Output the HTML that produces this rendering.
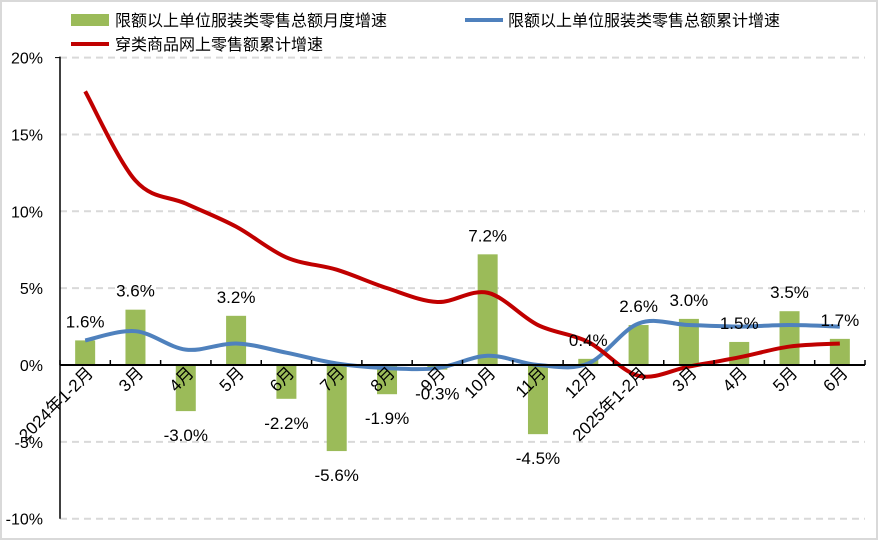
<!DOCTYPE html>
<html><head><meta charset="utf-8"><style>
body{margin:0;background:#fff}
svg{display:block;font-family:"Liberation Sans","Noto Sans CJK SC",sans-serif}
</style></head><body>
<svg id="c" width="878" height="540">
<rect x="1" y="1" width="876" height="538" fill="#fff" stroke="#d9d9d9" stroke-width="2"/>
<g id="grid"></g><g id="bars"></g><g id="lines"></g><g id="axes"></g><g id="labels"></g>
<g font-size="16">
<rect x="71" y="14" width="38" height="12" fill="#9bbb59"/>
<text x="115" y="26">限额以上单位服装类零售总额月度增速</text>
<line x1="465" y1="20" x2="503" y2="20" stroke="#4f81bd" stroke-width="4"/>
<text x="508" y="26">限额以上单位服装类零售总额累计增速</text>
<line x1="71" y1="44" x2="109" y2="44" stroke="#c00000" stroke-width="4"/>
<text x="115" y="50">穿类商品网上零售额累计增速</text>
</g>
</svg>
<script>
const categories=["2024年1-2月","3月","4月","5月","6月","7月","8月","9月","10月","11月","12月","2025年1-2月","3月","4月","5月","6月"];
const monthly=[1.6,3.6,-3.0,3.2,-2.2,-5.6,-1.9,-0.3,7.2,-4.5,0.4,2.6,3.0,1.5,3.5,1.7];
const cumulative=[1.6,2.2,1.0,1.4,0.8,0.1,-0.2,-0.2,0.6,0.0,0.1,2.7,2.6,2.5,2.6,2.5];
const online=[17.8,12.0,10.5,9.0,7.0,6.2,5.0,4.1,4.7,2.6,1.5,-0.7,-0.1,0.5,1.2,1.4];
const yTicks=[20,15,10,5,0,-5,-10];
const NS="http://www.w3.org/2000/svg";
const X0=60,X1=865,n=categories.length,bw=(X1-X0)/n;
const xc=i=>X0+bw*(i+0.5);
const y=v=>365-v*15.37;
function mk(t,a,p){const e=document.createElementNS(NS,t);for(const k in a)e.setAttribute(k,a[k]);document.getElementById(p).appendChild(e);return e;}
yTicks.forEach(v=>{
 if(v!==0){const g=mk('line',{x1:X0,x2:X1,y1:y(v),y2:y(v),stroke:'#d9d9d9','stroke-width':2,'stroke-dasharray':'7,5'},'grid');
 
 }
 const t=mk('text',{x:43,y:y(v)+6,'text-anchor':'end','font-size':16},'axes');t.textContent=v+'%';
 
 
});
monthly.forEach((v,i)=>{
 const w=20;const r=mk('rect',{x:xc(i)-w/2,y:Math.min(y(v),y(0)),width:w,height:Math.abs(y(v)-y(0)),fill:'#9bbb59'},'bars');
 
 
 const ly=v>=0?y(v)-13:y(v)+30;
 const t=mk('text',{x:xc(i),y:ly,'text-anchor':'middle','font-size':17},'labels');t.textContent=v.toFixed(1)+'%';
 
 
});
function path(vals){const p=vals.map((v,i)=>[xc(i),y(v)]);let d='M'+p[0];
 for(let i=0;i<p.length-1;i++){const p0=p[i-1]||p[i],p1=p[i],p2=p[i+1],p3=p[i+2]||p2;
 d+=' C'+(p1[0]+(p2[0]-p0[0])/6)+','+(p1[1]+(p2[1]-p0[1])/6)+' '+(p2[0]-(p3[0]-p1[0])/6)+','+(p2[1]-(p3[1]-p1[1])/6)+' '+p2;}return d;}
const l1=mk('path',{d:path(cumulative),fill:'none',stroke:'#4f81bd','stroke-width':4},'lines');


const l2=mk('path',{d:path(online),fill:'none',stroke:'#c00000','stroke-width':4},'lines');


const ya=mk('line',{x1:X0,x2:X0,y1:y(20)-1,y2:y(-10),stroke:'#000','stroke-width':1.5},'axes');


mk('line',{x1:X0-5,x2:X0,y1:y(20),y2:y(20),stroke:'#000'},'axes');
const xa=mk('line',{x1:X0,x2:X1,y1:y(0),y2:y(0),stroke:'#000','stroke-width':2},'axes');


for(let i=0;i<=n;i++){mk('line',{x1:X0+bw*i,x2:X0+bw*i,y1:y(0),y2:y(0)-5,stroke:'#000','stroke-width':1.5},'axes');}
categories.forEach((c,i)=>{
 const x=xc(i)+9,yy=374;
 const t=mk('text',{x:x,y:yy,'text-anchor':'end','font-size':17,transform:'rotate(-45 '+x+' '+yy+')'},'labels');t.textContent=c;
 
 
});
</script>
</body></html>
